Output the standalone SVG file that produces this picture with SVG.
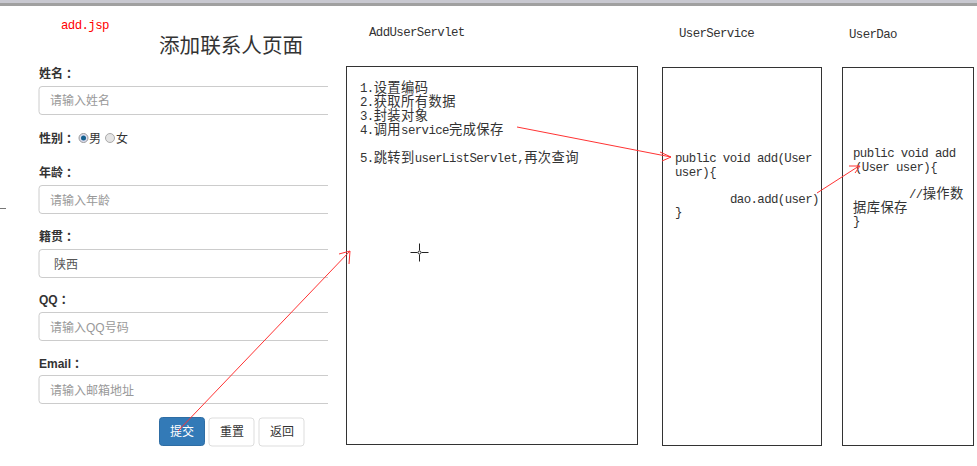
<svg xmlns="http://www.w3.org/2000/svg" width="977" height="466" viewBox="0 0 977 466">
<style>
text{font-family:"Liberation Sans","Noto Sans CJK SC",sans-serif}
text.m,text.red{font-family:"Liberation Mono","Noto Sans CJK SC",monospace;font-size:12.400px;letter-spacing:-.6px;fill:#333}
text.red{fill:#f00}
.c{font-size:13.300px;letter-spacing:.4px}
.lab{font-size:12px;font-weight:bold;fill:#333}
.ph{font-size:12px;fill:#999}
.inp{fill:#fff;stroke:#ccc;stroke-width:1}
.box{fill:#fff;stroke:#333;stroke-width:1}
.btn{fill:#fff;stroke:#ddd;stroke-width:1}
.arr{fill:none;stroke:#f33;stroke-width:1}
</style>
<rect width="977" height="466" fill="#fff"/>
<rect x="0" y="0" width="977" height="3" fill="#c8c8d0"/>
<rect x="0" y="3" width="977" height="3" fill="#a0a0a0"/>
<rect x="0" y="208" width="6" height="1" fill="#777"/>
<g id="form">
<text class="red" x="61" y="29">add.jsp</text>
<text x="159" y="53" font-size="20.600" fill="#333">添加联系人页面</text>
<text class="lab" x="39" y="78">姓名<tspan dx="3">：</tspan></text>
<path class="inp" d="M328 86.500H42a3 3 0 0 0-3 3v22a3 3 0 0 0 3 3H328"/>
<text class="ph" x="50" y="105">请输入姓名</text>
<text class="lab" x="39" y="143">性别<tspan dx="3">：</tspan></text>
<circle cx="83.500" cy="138" r="4.500" fill="#dde" stroke="#999"/><circle cx="83.500" cy="138" r="2.500" fill="#14608f"/>
<text x="89" y="143" font-size="12" fill="#333">男</text>
<circle cx="110" cy="138" r="4.500" fill="#e4e4e4" stroke="#aaa"/>
<text x="116" y="143" font-size="12" fill="#333">女</text>
<text class="lab" x="39" y="177">年龄<tspan dx="3">：</tspan></text>
<path class="inp" d="M328 185.500H42a3 3 0 0 0-3 3v22a3 3 0 0 0 3 3H328"/>
<text class="ph" x="50" y="205">请输入年龄</text>
<text class="lab" x="39" y="241">籍贯<tspan dx="3">：</tspan></text>
<path class="inp" d="M328 249.500H42a3 3 0 0 0-3 3v22a3 3 0 0 0 3 3H328"/>
<text x="54" y="269" font-size="12" fill="#555">陕西</text>
<text class="lab" x="39" y="304">QQ<tspan dx="3">：</tspan></text>
<path class="inp" d="M328 312.500H42a3 3 0 0 0-3 3v22a3 3 0 0 0 3 3H328"/>
<text class="ph" x="50" y="332">请输入QQ号码</text>
<text class="lab" x="39" y="368">Email<tspan dx="3">：</tspan></text>
<path class="inp" d="M328 375.500H42a3 3 0 0 0-3 3v22a3 3 0 0 0 3 3H328"/>
<text class="ph" x="50" y="395">请输入邮箱地址</text>
<rect x="159.500" y="417.500" width="45" height="28" rx="3" fill="#337ab7" stroke="#2e6da4"/>
<text x="170" y="436" font-size="12" fill="#fff">提交</text>
<rect class="btn" x="209" y="418" width="45" height="28" rx="3"/>
<text x="220" y="436" font-size="12" fill="#333">重置</text>
<rect class="btn" x="259" y="418" width="45" height="28" rx="3"/>
<text x="270" y="436" font-size="12" fill="#333">返回</text>
</g>
<g id="servlet">
<text class="m" x="369" y="36">AddUserServlet</text>
<rect class="box" x="346.500" y="66.500" width="291" height="378"/>
<text class="m" x="360" y="92">1.<tspan class="c">设置编码</tspan></text>
<text class="m" x="360" y="106">2.<tspan class="c">获取所有数据</tspan></text>
<text class="m" x="360" y="120">3.<tspan class="c">封装对象</tspan></text>
<text class="m" x="360" y="134">4.<tspan class="c">调用</tspan>service<tspan class="c">完成保存</tspan></text>
<text class="m" x="360" y="162">5.<tspan class="c">跳转到</tspan>userListServlet,<tspan class="c">再次查询</tspan></text>
</g>
<g id="service">
<text class="m" x="679" y="37">UserService</text>
<rect class="box" x="662.500" y="67.500" width="159" height="378"/>
<text class="m" x="675" y="162">public void add(User</text>
<text class="m" x="675" y="176">user){</text>
<text class="m" x="730" y="203">dao.add(user)</text>
<text class="m" x="675" y="216">}</text>
</g>
<g id="dao">
<text class="m" x="849" y="38">UserDao</text>
<rect class="box" x="842.500" y="67.500" width="131" height="378" stroke="#666"/>
<text class="m" x="853" y="157">public void add</text>
<text class="m" x="855" y="171">(User user){</text>
<text class="m" x="909" y="198">//<tspan class="c">操作数</tspan></text>
<text class="m" x="853" y="212"><tspan class="c">据库保存</tspan></text>
<text class="m" x="853" y="225">}</text>
</g>
<g id="cursor" stroke="#222" stroke-width="1" fill="none">
<path d="M410.500 252.500H417.500M421.500 252.500H428.500M419.500 243.500V250.500M419.500 254.500V261.500"/><circle cx="419.500" cy="252.500" r="1.500"/>
</g>
<g id="connectors">
<path class="arr" d="M178 431L350 251M339 254L350 251L349 264"/>
<path class="arr" d="M517 127L671 157M660 152L671 157L662 161"/>
<path class="arr" d="M817 193L859 166M849 166H860L855 173"/>
</g>
</svg>
